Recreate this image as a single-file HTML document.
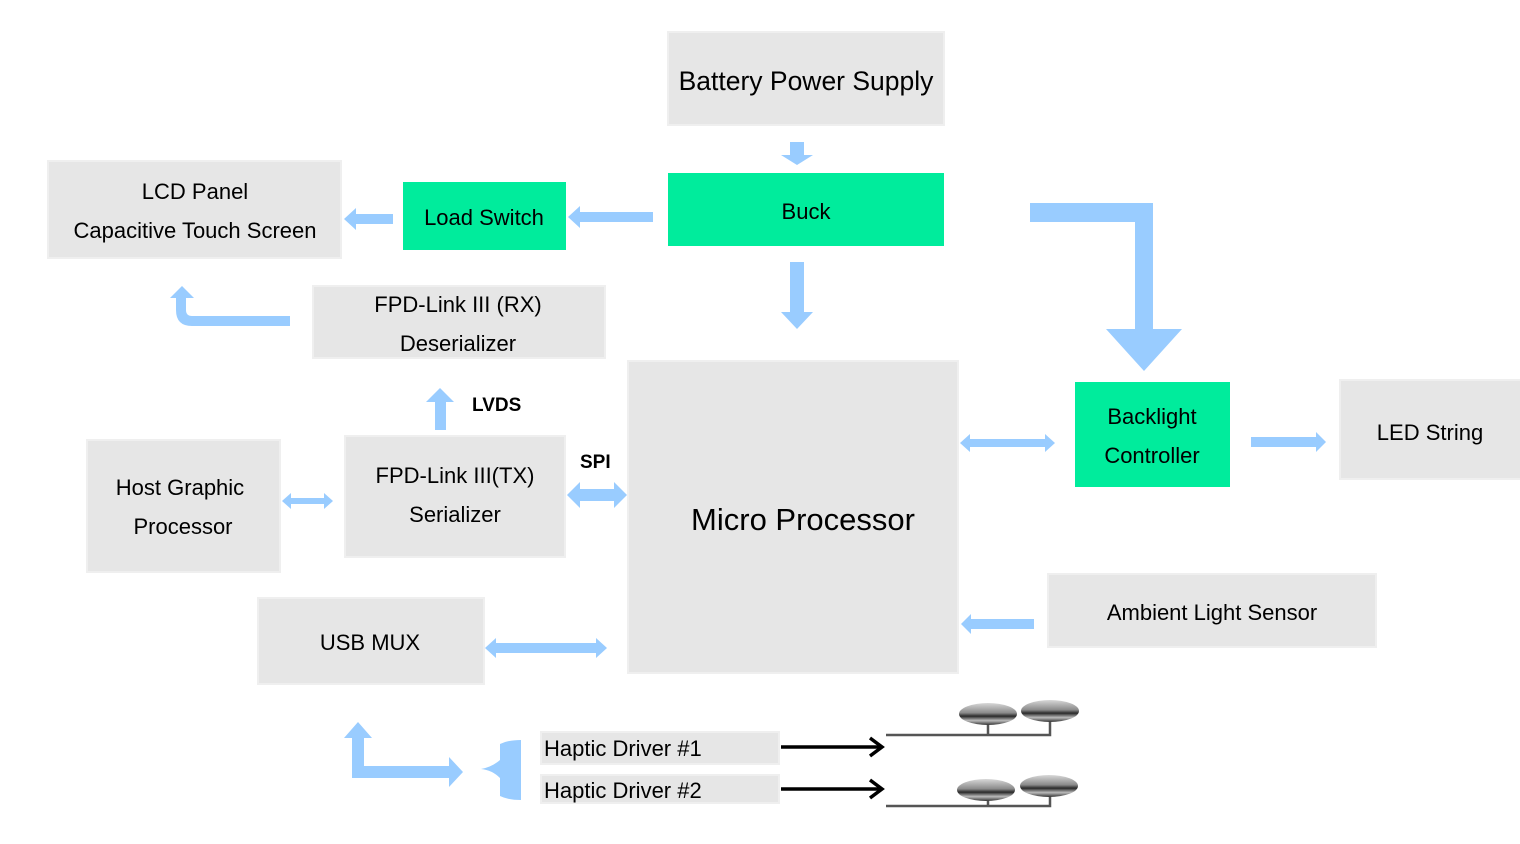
<!DOCTYPE html>
<html><head><meta charset="utf-8"><style>
html,body{margin:0;padding:0;background:#fff;width:1520px;height:844px;overflow:hidden}
svg text{font-family:"Liberation Sans",Arial,sans-serif;fill:#000}
</style></head><body>
<svg width="1520" height="844" viewBox="0 0 1520 844" xmlns="http://www.w3.org/2000/svg">
<defs>
<linearGradient id="disc" x1="0" y1="0" x2="0" y2="1">
<stop offset="0" stop-color="#d8d8d8"/><stop offset="0.45" stop-color="#8a8a8a"/><stop offset="0.6" stop-color="#2a2a2a"/><stop offset="0.8" stop-color="#bbbbbb"/><stop offset="1" stop-color="#333"/>
</linearGradient>
</defs>
<g fill="#e6e6e6" stroke="#efefef" stroke-width="2">
<rect x="668" y="32" width="276" height="93"/>
<rect x="48" y="161" width="293" height="97"/>
<rect x="313" y="286" width="292" height="72"/>
<rect x="628" y="361" width="330" height="312"/>
<rect x="1340" y="380" width="182" height="99"/>
<rect x="87" y="440" width="193" height="132"/>
<rect x="345" y="436" width="220" height="121"/>
<rect x="258" y="598" width="226" height="86"/>
<rect x="1048" y="574" width="328" height="73"/>
<rect x="541" y="732" width="238" height="32"/>
<rect x="541" y="775" width="238" height="28"/>
</g>
<g fill="#00ec9c">
<rect x="668" y="173" width="276" height="73"/>
<rect x="403" y="182" width="163" height="68"/>
<rect x="1075" y="382" width="155" height="105"/>
</g>
<g font-size="22" text-anchor="middle">
<text x="806" y="90" font-size="26.5">Battery Power Supply</text>
<text x="806" y="219">Buck</text>
<text x="195" y="199">LCD Panel</text>
<text x="195" y="238">Capacitive Touch Screen</text>
<text x="484" y="225">Load Switch</text>
<text x="458" y="312">FPD-Link III  (RX)</text>
<text x="458" y="351">Deserializer</text>
<text x="803" y="530" font-size="31">Micro Processor</text>
<text x="1152" y="424">Backlight</text>
<text x="1152" y="463">Controller</text>
<text x="1430" y="440">LED String</text>
<text x="180" y="495">Host Graphic</text>
<text x="183" y="534">Processor</text>
<text x="455" y="483">FPD-Link III(TX)</text>
<text x="455" y="522">Serializer</text>
<text x="370" y="650">USB MUX</text>
<text x="1212" y="620">Ambient Light Sensor</text>
</g>
<text x="544" y="756" font-size="22">Haptic Driver #1</text>
<text x="544" y="798" font-size="22">Haptic Driver #2</text>
<text x="472" y="411" font-size="19" font-weight="bold">LVDS</text>
<text x="580" y="468" font-size="19" font-weight="bold">SPI</text>
<g fill="#99ccff">
<polygon points="790,142 804,142 804,155 813,155 797,165 781,155 790,155"/>
<polygon points="790,262 804,262 804,312 813,312 797,329 781,312 790,312"/>
<polygon points="653,212 653,222 580,222 580,228 568,217 580,206 580,212"/>
<polygon points="393,214 393,224 356,224 356,230 344,219 356,208 356,214"/>
<polygon points="1030,203 1153,203 1153,329 1182,329 1144,371 1106,329 1135,329 1135,222 1030,222"/>
<path d="M290,316 L290,326 L192,326 Q176,326 176,310 L176,298 L170,298 L182,286 L194,298 L186,298 L186,310 Q186,316 192,316 Z"/>
<polygon points="435,430 446,430 446,402 454,402 440,388 426,402 435,402"/>
<polygon points="567,495 580,482 580,489 614,489 614,482 627,495 614,508 614,501 580,501 580,508"/>
<polygon points="282,501 291,493 291,498 324,498 324,493 333,501 324,509 324,504 291,504 291,509"/>
<polygon points="960,443 970,434 970,439 1045,439 1045,434 1055,443 1045,452 1045,447 970,447 970,452"/>
<polygon points="1251,437 1316,437 1316,432 1326,442 1316,452 1316,447 1251,447"/>
<polygon points="1034,619 1034,629 971,629 971,634 961,624 971,614 971,619"/>
<polygon points="485,648 496,638 496,643 596,643 596,638 607,648 596,658 596,653 496,653 496,658"/>
<polygon points="352,738 344,738 358,722 372,738 364,738 364,766 449,766 449,757 463,772 449,787 449,778 352,778"/>
<path d="M521,740 L521,800 Q508,800 500,796 L500,778 Q492,770 481,769 Q492,767 500,760 L500,744 Q508,740 521,740 Z"/>
</g>
<g stroke="#000" stroke-width="3.5" fill="none">
<line x1="781" y1="747" x2="882" y2="747"/>
<polyline points="870,738 882,747 870,756"/>
<line x1="781" y1="789" x2="882" y2="789"/>
<polyline points="870,780 882,789 870,798"/>
</g>
<g stroke="#555" stroke-width="2.5" fill="none">
<polyline points="886,735 1050,735 1050,718"/>
<line x1="988" y1="735" x2="988" y2="720"/>
<polyline points="886,806 1050,806 1050,790"/>
<line x1="988" y1="806" x2="988" y2="792"/>
</g>
<g fill="url(#disc)">
<ellipse cx="988" cy="714" rx="29" ry="11"/>
<ellipse cx="1050" cy="711" rx="29" ry="11"/>
<ellipse cx="986" cy="790" rx="29" ry="11"/>
<ellipse cx="1049" cy="786" rx="29" ry="11"/>
</g>
</svg>
</body></html>
